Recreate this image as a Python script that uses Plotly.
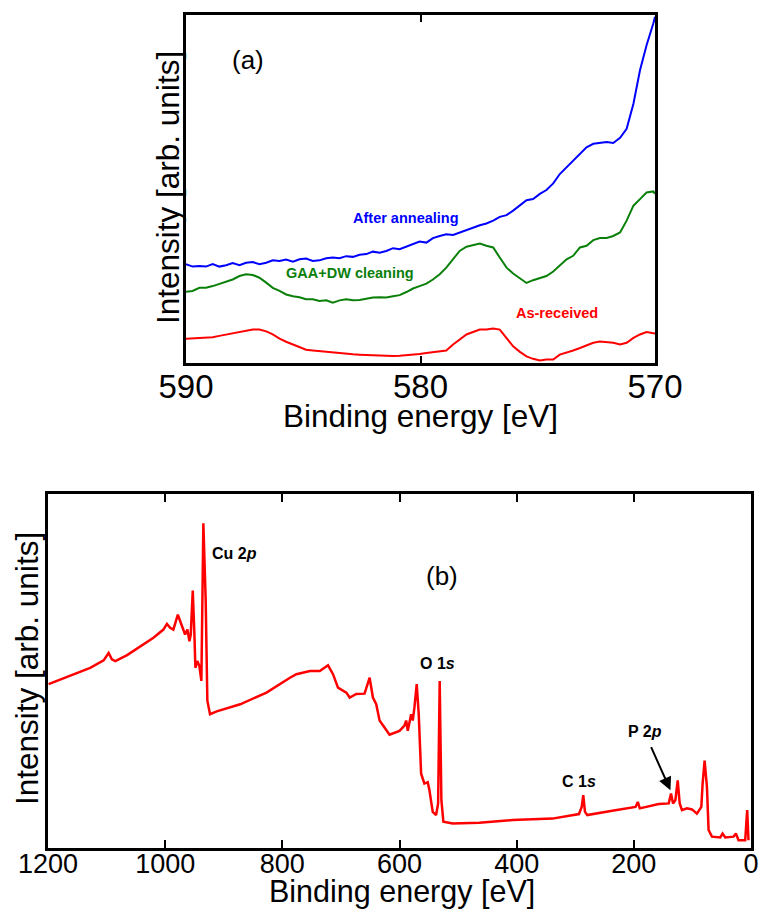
import plotly.graph_objects as go

# ---------------- Panel (a): Cu 2p satellite region ----------------
energy_a = [590.00, 589.72, 589.43, 589.15, 588.86, 588.58, 588.29, 588.01, 587.72, 587.44,
            587.15, 586.87, 586.58, 586.30, 586.01, 585.73, 585.44, 585.16, 584.88, 584.59,
            584.31, 584.02, 583.74, 583.45, 583.17, 582.88, 582.60, 582.31, 582.03, 581.74,
            581.46, 581.17, 580.89, 580.60, 580.32, 580.04, 579.75, 579.47, 579.18, 578.90,
            578.61, 578.33, 578.04, 577.76, 577.47, 577.19, 576.90, 576.62, 576.33, 576.05,
            575.76, 575.48, 575.20, 574.91, 574.63, 574.34, 574.06, 573.77, 573.49, 573.20,
            572.92, 572.63, 572.35, 572.06, 571.78, 571.49, 571.21, 570.92, 570.64, 570.36,
            570.07, 570.00]

after_annealing = [28.4, 27.7, 27.9, 27.7, 28.4, 27.7, 28.1, 28.7, 28.1, 28.8,
                   29.0, 28.4, 28.8, 29.5, 29.3, 29.7, 29.1, 29.8, 30.0, 29.3,
                   29.5, 30.1, 30.3, 30.1, 30.7, 30.5, 31.1, 31.3, 32.0, 31.7,
                   32.2, 33.0, 32.7, 33.4, 34.1, 34.9, 34.6, 35.9, 36.5, 37.0,
                   36.8, 37.5, 38.0, 38.7, 39.6, 40.1, 40.9, 42.0, 42.5, 43.8,
                   45.2, 46.8, 47.1, 48.6, 49.7, 51.6, 54.3, 56.3, 58.2, 60.1,
                   62.0, 63.0, 63.2, 63.5, 63.2, 64.7, 67.3, 74.5, 84.1, 91.3,
                   97.6, 99.5]

gaa_dw_cleaning = [20.5, 20.7, 21.6, 21.6, 22.1, 22.8, 23.4, 24.0, 25.0, 25.5,
                   25.3, 24.5, 23.1, 21.6, 20.7, 19.7, 19.2, 18.9, 18.3, 18.3,
                   17.8, 18.0, 17.3, 18.0, 18.3, 18.0, 18.1, 18.5, 18.8, 18.9,
                   18.8, 19.2, 19.5, 20.4, 21.4, 22.1, 22.8, 24.0, 25.5, 27.4,
                   29.8, 32.2, 33.4, 33.9, 34.3, 33.7, 33.2, 30.3, 27.4, 25.7,
                   24.3, 23.0, 23.8, 24.3, 25.0, 26.3, 27.9, 29.8, 30.8, 33.2,
                   33.7, 35.3, 35.9, 35.9, 36.5, 37.5, 40.9, 45.2, 47.1, 49.0,
                   49.3, 48.6]

as_received = [7.0, 7.1, 7.2, 7.2, 7.4, 7.8, 8.2, 8.6, 8.9, 9.3,
               9.6, 9.6, 9.1, 8.2, 7.0, 6.1, 5.3, 4.5, 3.8, 3.6,
               3.4, 3.3, 3.2, 2.9, 2.6, 2.5, 2.4, 2.3, 2.2, 2.1,
               2.1, 2.0, 2.1, 2.2, 2.4, 2.6, 2.9, 3.2, 3.4, 3.6,
               5.3, 6.7, 8.2, 8.9, 9.6, 9.6, 9.9, 9.6, 7.2, 4.8,
               3.2, 1.9, 1.2, 0.7, 1.0, 1.0, 2.4, 2.9, 3.6, 4.3,
               5.1, 5.8, 6.2, 6.1, 5.8, 5.3, 5.8, 7.2, 8.2, 8.9,
               8.7, 8.5]

ticks_a = [590, 580, 570]

# ---------------- Panel (b): survey spectrum ----------------
energy_b = [1199, 1156, 1128, 1105, 1096.5, 1091, 1085, 1065, 1043, 1020,
            1003, 997, 991.5, 986, 978.4, 971.6, 966, 962, 958.6, 956.3,
            952.9, 950.1, 948.4, 945, 941.6, 938.2, 934.8, 930.8, 928, 923.4,
            912, 872, 827, 787, 776, 753, 736, 722, 713.5, 705,
            690.7, 685, 673.7, 659.6, 651, 645.4, 639.7, 634, 622.7, 617,
            600, 591.5, 588.6, 585.9, 580.1, 577.4, 574.5, 570.6, 567.2, 563.1,
            557.5, 551.8, 548.9, 543.3, 537.5, 534.1, 531.4, 528.5, 525.1, 509.3,
            463.8, 407.1, 339.1, 293.6, 289, 286.3, 283.4, 279.5, 236.9, 197.1,
            193.2, 189.8, 157.5, 140.4, 136.5, 133.1, 129.1, 125.1, 121.7, 117.8,
            109.3, 100.8, 92.3, 84.8, 82.6, 79.2, 75.2, 72.4, 66.7, 52.5,
            48.5, 43.9, 29.8, 25.8, 21.3, 9.9, 6.5, 4.3]

survey = [46.3, 49.1, 50.9, 53.0, 55.1, 53.3, 52.8, 54.5, 57.0, 59.4,
          61.7, 63.3, 62.2, 61.7, 65.9, 62.6, 60.3, 61.7, 58.4, 60.3,
          72.7, 60.3, 50.9, 52.8, 51.4, 47.2, 91.7, 69.7, 41.6, 37.8,
          38.6, 40.6, 43.9, 48.1, 49.1, 50.0, 50.0, 51.6, 49.1, 45.3,
          43.9, 42.5, 43.5, 43.6, 48.1, 42.5, 40.6, 36.0, 33.1, 32.0,
          33.1, 34.6, 36.0, 33.1, 37.8, 36.0, 39.7, 46.3, 37.8, 21.0,
          18.2, 18.6, 16.3, 10.2, 9.3, 12.6, 47.2, 13.5, 7.4, 6.9,
          7.1, 7.9, 8.3, 9.6, 11.6, 14.9, 10.2, 9.3, 10.5, 11.6,
          13.0, 11.2, 12.4, 12.6, 15.4, 12.6, 13.5, 19.1, 12.6, 10.7,
          11.2, 10.9, 9.7, 11.6, 18.2, 24.7, 17.2, 5.1, 3.2, 3.0,
          4.1, 3.0, 3.2, 4.1, 2.2, 2.2, 10.7, 2.2]

ticks_b = [1200, 1000, 800, 600, 400, 200, 0]

FONT = "Liberation Sans, Arial, sans-serif"
W, H = 761, 913

fig = go.Figure()
fig.add_trace(go.Scatter(x=energy_a, y=after_annealing, mode="lines",
                         line=dict(color="#0000ff", width=2), xaxis="x", yaxis="y"))
fig.add_trace(go.Scatter(x=energy_a, y=gaa_dw_cleaning, mode="lines",
                         line=dict(color="#0a800a", width=2), xaxis="x", yaxis="y"))
fig.add_trace(go.Scatter(x=energy_a, y=as_received, mode="lines",
                         line=dict(color="#ff0000", width=2), xaxis="x", yaxis="y"))
fig.add_trace(go.Scatter(x=energy_b, y=survey, mode="lines",
                         line=dict(color="#ff0000", width=2.5), xaxis="x2", yaxis="y2"))

axis_common = dict(showline=True, linecolor="black", linewidth=2.5, mirror="ticks",
                   showgrid=False, zeroline=False, automargin=False)

def px_x(p):
    return p / W

def px_y(p):
    return 1 - p / H

fig.update_layout(
    width=W, height=H, margin=dict(l=0, r=0, t=0, b=0, pad=0, autoexpand=False),
    paper_bgcolor="white", plot_bgcolor="white", showlegend=False,
    font=dict(family=FONT, color="black"),
    xaxis=dict(domain=[px_x(186), px_x(655)], range=[590, 570], tickvals=ticks_a,
               ticks="inside", ticklen=7, tickwidth=2, tickcolor="black",
               tickfont=dict(size=33, family=FONT), ticklabelstandoff=-7,
               anchor="y", **axis_common),
    yaxis=dict(domain=[px_y(363), px_y(15)], range=[0, 100], showticklabels=False,
               ticks="", anchor="x", **axis_common),
    xaxis2=dict(domain=[px_x(48), px_x(751)], range=[1200, 0], tickvals=ticks_b,
                ticks="inside", ticklen=8, tickwidth=2, tickcolor="black",
                tickfont=dict(size=27, family=FONT), ticklabelstandoff=-10,
                anchor="y2", **axis_common),
    yaxis2=dict(domain=[px_y(848), px_y(494)], range=[0, 100], showticklabels=False,
                ticks="", anchor="x2", **axis_common),
)

ann = []
# axis titles
ann.append(dict(text="Intensity [arb. units]", x=px_x(168), y=px_y(188), xref="paper", yref="paper",
                textangle=-90, showarrow=False, font=dict(size=31.5), xanchor="center", yanchor="middle"))
ann.append(dict(text="Binding energy [eV]", x=px_x(420), y=px_y(416), xref="paper", yref="paper",
                showarrow=False, font=dict(size=31.5), xanchor="center", yanchor="middle"))
ann.append(dict(text="Intensity [arb. units]", x=px_x(27), y=px_y(669), xref="paper", yref="paper",
                textangle=-90, showarrow=False, font=dict(size=31.5), xanchor="center", yanchor="middle"))
ann.append(dict(text="Binding energy [eV]", x=px_x(402), y=px_y(891), xref="paper", yref="paper",
                showarrow=False, font=dict(size=30.5), xanchor="center", yanchor="middle"))
# panel (a) labels
ann.append(dict(text="(a)", x=587.37, y=87, xref="x", yref="y", showarrow=False,
                font=dict(size=26)))
ann.append(dict(text="<b>After annealing</b>", x=580.6, y=41.8, xref="x", yref="y", showarrow=False,
                font=dict(size=14.5, color="#0000ff")))
ann.append(dict(text="<b>GAA+DW cleaning</b>", x=583.0, y=26.0, xref="x", yref="y", showarrow=False,
                font=dict(size=14.5, color="#0a800a")))
ann.append(dict(text="<b>As-received</b>", x=574.2, y=14.4, xref="x", yref="y", showarrow=False,
                font=dict(size=14.5, color="#ff0000")))
# panel (b) labels
ann.append(dict(text="(b)", x=528, y=76.7, xref="x2", yref="y2", showarrow=False,
                font=dict(size=26)))
ann.append(dict(text="<b>Cu 2<i>p</i></b>", x=880.9, y=83.2, xref="x2", yref="y2", showarrow=False,
                font=dict(size=16)))
ann.append(dict(text="<b>O 1<i>s</i></b>", x=535.3, y=52.1, xref="x2", yref="y2", showarrow=False,
                font=dict(size=16)))
ann.append(dict(text="<b>C 1<i>s</i></b>", x=293.1, y=18.8, xref="x2", yref="y2", showarrow=False,
                font=dict(size=16)))
ann.append(dict(text="<b>P 2<i>p</i></b>", x=180.1, y=32.9, xref="x2", yref="y2", showarrow=False,
                font=dict(size=16)))
ann.append(dict(text="", x=137.5, y=16.3, ax=171.6, ay=28.9, xref="x2", yref="y2",
                axref="x2", ayref="y2", showarrow=True, arrowhead=2, arrowsize=1.3,
                arrowwidth=2, arrowcolor="black"))

fig.update_layout(annotations=ann)
fig.write_html("out.html", config={"displayModeBar": False},
               post_script="document.body.style.margin='0';document.body.style.overflow='hidden';")
